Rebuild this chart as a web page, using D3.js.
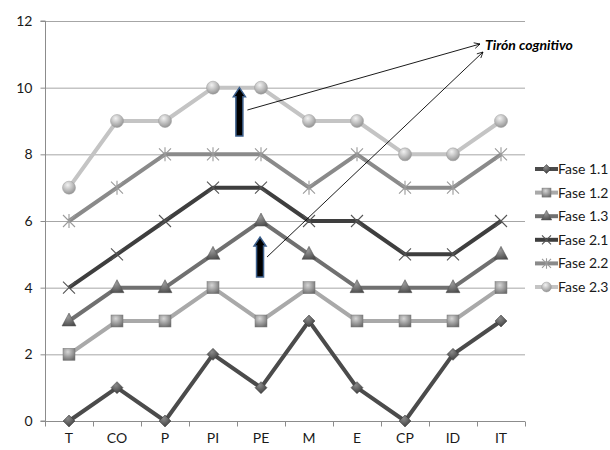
<!DOCTYPE html>
<html>
<head>
<meta charset="utf-8">
<script src="https://cdn.jsdelivr.net/npm/d3@7"></script>
<style>
  html, body { margin: 0; padding: 0; background: #fff; }
  svg text { font-family: Lato, "Liberation Sans", sans-serif; }
</style>
</head>
<body>
<svg id="chart" width="610" height="450"></svg>
<script>
// Categories along the x axis
const categories = ["T", "CO", "P", "PI", "PE", "M", "E", "CP", "ID", "IT"];

// Scores per phase
const fase11 = [0, 1, 0, 2, 1, 3, 1, 0, 2, 3];
const fase12 = [2, 3, 3, 4, 3, 4, 3, 3, 3, 4];
const fase13 = [3, 4, 4, 5, 6, 5, 4, 4, 4, 5];
const fase21 = [4, 5, 6, 7, 7, 6, 6, 5, 5, 6];
const fase22 = [6, 7, 8, 8, 8, 7, 8, 7, 7, 8];
const fase23 = [7, 9, 9, 10, 10, 9, 9, 8, 8, 9];

const seriesNames = ["Fase 1.1", "Fase 1.2", "Fase 1.3", "Fase 2.1", "Fase 2.2", "Fase 2.3"];
const yTicks = [0, 2, 4, 6, 8, 10, 12];

// Annotation: two upward "pull" arrows (position in category units, value range)
const annotationText = "Tirón cognitivo";
const pullPos = [4.05, 4.48];     // 0 = left edge of first category
const pullTop = [10.0, 5.52];
const pullBottom = [8.55, 4.32];
const leaderFrom = [9.33, 4.92];

const series = [
  { name: seriesNames[0], values: fase11, color: "#4b4b4b", marker: "diamond" },
  { name: seriesNames[1], values: fase12, color: "#a9a9a9", marker: "square" },
  { name: seriesNames[2], values: fase13, color: "#707070", marker: "triangle" },
  { name: seriesNames[3], values: fase21, color: "#3e3e3e", marker: "x" },
  { name: seriesNames[4], values: fase22, color: "#8a8a8a", marker: "star" },
  { name: seriesNames[5], values: fase23, color: "#c4c4c4", marker: "circle" }
];

const svg = d3.select("#chart");
const margin = { left: 45, top: 21, right: 85, bottom: 29 };
const H = 450;

const x = d3.scaleBand().domain(categories).range([margin.left, margin.left + 480]).padding(0);
const xc = d3.scaleLinear().domain([0, categories.length]).range([margin.left, margin.left + 480]);
const y = d3.scaleLinear().domain([0, 12]).range([H - margin.bottom, margin.top]);
const cx = c => x(c) + x.bandwidth() / 2;

// Gradients for the bevelled markers
const defs = svg.append("defs");
function addGrad(id, light, dark) {
  const g = defs.append("radialGradient").attr("id", id)
    .attr("cx", "40%").attr("cy", "30%").attr("r", "75%");
  g.append("stop").attr("offset", "0%").attr("stop-color", light);
  g.append("stop").attr("offset", "100%").attr("stop-color", dark);
}
addGrad("g-diamond", "#8a8a8a", "#3a3a3a");
addGrad("g-square", "#d6d6d6", "#6e6e6e");
addGrad("g-triangle", "#9a9a9a", "#4c4c4c");
addGrad("g-circle", "#f2f2f2", "#8e8e8e");
defs.append("marker").attr("id", "openhead")
  .attr("viewBox", "0 0 10 10").attr("refX", 9).attr("refY", 5)
  .attr("markerWidth", 8).attr("markerHeight", 8).attr("orient", "auto")
  .append("path").attr("d", "M1,1 L9,5 L1,9").attr("fill", "none")
  .attr("stroke", "#000").attr("stroke-width", 1.1);

// Gridlines
svg.append("g").selectAll("line").data(yTicks.filter(t => t > 0)).join("line")
  .attr("x1", margin.left).attr("x2", margin.left + 480)
  .attr("y1", d => y(d) + 0.5).attr("y2", d => y(d) + 0.5)
  .attr("stroke", "#a6a6a6").attr("stroke-width", 1);

// Y axis
const yAxis = svg.append("g").attr("transform", `translate(${margin.left + 0.5},0)`)
  .call(d3.axisLeft(y).tickValues(yTicks).tickSize(5).tickPadding(8).tickFormat(d3.format("d")));
yAxis.select(".domain").attr("stroke", "#8c8c8c").attr("d", `M-5,${y(12)}H0V${y(0)}H-5`);
yAxis.selectAll(".tick line").attr("stroke", "#8c8c8c");
yAxis.selectAll(".tick text").attr("font-size", 14).attr("fill", "#1a1a1a");

// X axis with ticks between categories
const xAxis = svg.append("g").attr("transform", `translate(0,${y(0) + 0.5})`);
xAxis.append("line").attr("x1", margin.left).attr("x2", margin.left + 480)
  .attr("stroke", "#8c8c8c");
xAxis.selectAll("line.tk").data(categories.map(c => x(c)).concat([margin.left + 480])).join("line")
  .attr("class", "tk").attr("x1", d => d + 0.5).attr("x2", d => d + 0.5)
  .attr("y1", 0).attr("y2", 5).attr("stroke", "#8c8c8c");
xAxis.selectAll("text").data(categories).join("text")
  .attr("x", d => cx(d)).attr("y", 21).attr("text-anchor", "middle")
  .attr("font-size", 14).attr("fill", "#1a1a1a").text(d => d);

// Marker drawing
function drawMarker(g, type, size) {
  const s = size || 1;
  if (type === "diamond") {
    g.append("path").attr("d", `M0,${-6 * s}L${6 * s},0L0,${6 * s}L${-6 * s},0Z`)
      .attr("fill", "url(#g-diamond)").attr("stroke", "#3a3a3a").attr("stroke-width", 0.5);
  } else if (type === "square") {
    g.append("rect").attr("x", -6 * s).attr("y", -6 * s).attr("width", 12 * s).attr("height", 12 * s)
      .attr("fill", "url(#g-square)").attr("stroke", "#777").attr("stroke-width", 0.5);
  } else if (type === "triangle") {
    g.append("path").attr("d", `M0,${-8 * s}L${7 * s},${5 * s}L${-7 * s},${5 * s}Z`)
      .attr("fill", "url(#g-triangle)").attr("stroke", "#555").attr("stroke-width", 0.5);
  } else if (type === "x") {
    g.append("path").attr("d", `M${-6 * s},${-6 * s}L${6 * s},${6 * s}M${-6 * s},${6 * s}L${6 * s},${-6 * s}`)
      .attr("stroke", "#555").attr("stroke-width", 1.1).attr("fill", "none");
  } else if (type === "star") {
    g.append("path").attr("d", `M${-6 * s},${-6 * s}L${6 * s},${6 * s}M${-6 * s},${6 * s}L${6 * s},${-6 * s}M0,${-7 * s}L0,${7 * s}`)
      .attr("stroke", "#9a9a9a").attr("stroke-width", 1.1).attr("fill", "none");
  } else if (type === "circle") {
    g.append("circle").attr("r", 6.5 * s)
      .attr("fill", "url(#g-circle)").attr("stroke", "#9a9a9a").attr("stroke-width", 0.5);
  }
}

const line = d3.line().x(d => cx(d.cat)).y(d => y(d.v));

// Series lines and markers
series.forEach(s => {
  const pts = s.values.map((v, i) => ({ cat: categories[i], v }));
  const g = svg.append("g");
  g.append("path").datum(pts).attr("d", line)
    .attr("fill", "none").attr("stroke", s.color).attr("stroke-width", 4)
    .attr("stroke-linejoin", "round");
  pts.forEach(p => {
    const mg = g.append("g").attr("transform", `translate(${cx(p.cat)},${y(p.v)})`);
    drawMarker(mg, s.marker);
  });
});

// Block arrows pointing up
pullPos.forEach((pos, i) => {
  const px = xc(pos);
  const y0 = y(pullBottom[i]), y1 = y(pullTop[i]);
  const w = 3.5, hw = 6, hh = 9;
  svg.append("path")
    .attr("d", `M${px - w},${y0}V${y1 + hh}H${px - hw}L${px},${y1}L${px + hw},${y1 + hh}H${px + w}V${y0}Z`)
    .attr("fill", "#000").attr("stroke", "#3c5f8c").attr("stroke-width", 1.5);
});

// Annotation leaders from the arrows to the label
const tx = 485, ty = 45;
const leaders = [
  { from: [xc(pullPos[0]) + 8, y(leaderFrom[0])], to: [tx - 5, ty - 1] },
  { from: [xc(pullPos[1]) + 7, y(leaderFrom[1])], to: [tx - 2, ty + 7] }
];
svg.append("g").selectAll("line").data(leaders).join("line")
  .attr("x1", d => d.from[0]).attr("y1", d => d.from[1])
  .attr("x2", d => d.to[0]).attr("y2", d => d.to[1])
  .attr("stroke", "#000").attr("stroke-width", 0.9).attr("marker-end", "url(#openhead)");
svg.append("text").attr("x", tx).attr("y", ty + 4.5)
  .attr("font-size", 14).attr("font-weight", "bold").attr("font-style", "italic")
  .attr("fill", "#000").text(annotationText);

// Legend
const legend = svg.append("g");
series.forEach((s, i) => {
  const ly = 169 + i * 23.6;
  const g = legend.append("g").attr("transform", `translate(0,${ly})`);
  g.append("line").attr("x1", 535).attr("x2", 558).attr("y1", 0).attr("y2", 0)
    .attr("stroke", s.color).attr("stroke-width", 4);
  const mg = g.append("g").attr("transform", "translate(546.5,0)");
  drawMarker(mg, s.marker, 0.75);
  g.append("text").attr("x", 558).attr("y", 5).attr("font-size", 14)
    .attr("fill", "#1a1a1a").text(s.name);
});
</script>
</body>
</html>
